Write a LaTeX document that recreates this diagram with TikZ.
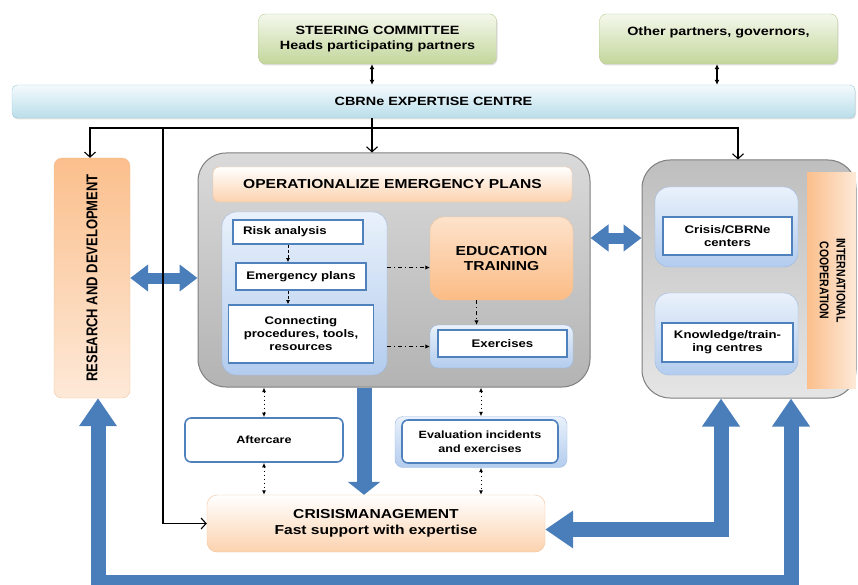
\documentclass[tikz,border=0pt]{standalone}
\usepackage{graphicx}
\usepackage{fontspec}
\setmainfont{Liberation Sans}[FakeStretch=1.2]
\newfontfamily\sidefont{Liberation Sans}
\usetikzlibrary{arrows.meta,positioning,shadows}

\definecolor{leaf}{HTML}{C3D69B}
\definecolor{leaflight}{HTML}{F4F8EC}
\definecolor{leafrim}{HTML}{B9CB95}
\definecolor{sky}{HTML}{B9DEEA}
\definecolor{skylight}{HTML}{F4FAFD}
\definecolor{skyrim}{HTML}{9FCADB}
\definecolor{peach}{HTML}{FBBF8C}
\definecolor{peachlight}{HTML}{FDE9D8}
\definecolor{peachrim}{HTML}{F2C39B}
\definecolor{panelblue}{HTML}{B3CCEE}
\definecolor{panellight}{HTML}{E9F1FB}
\definecolor{panelrim}{HTML}{9DB9E0}
\definecolor{rim}{HTML}{4F81BD}
\definecolor{arrowblue}{HTML}{4A7EBB}
\definecolor{greytop}{HTML}{DADADA}
\definecolor{greybot}{HTML}{B3B3B3}
\definecolor{greyrim}{HTML}{7F7F7F}

\newcommand{\boxfont}[2]{\fontsize{#1}{#2}\selectfont\bfseries}
% upright text turned on its side, widened like the rest
\newcommand{\sidetext}[2]{\scalebox{1.2}[1]{\rotatebox{#1}{#2}}}

\begin{document}
\begin{tikzpicture}[x=1pt,y=-1pt,
    greenbox/.style={rectangle,rounded corners=7pt,draw=leafrim,top color=leaflight,bottom color=leaf,
      minimum width=238pt,minimum height=50pt,align=center,font=\boxfont{12}{15},
      drop shadow={shadow xshift=1pt,shadow yshift=-1.5pt,opacity=.25}},
    bar/.style={rectangle,rounded corners=5pt,draw=skyrim,top color=skylight,bottom color=sky,
      minimum width=843pt,minimum height=33pt,font=\boxfont{12}{14},
      drop shadow={shadow xshift=1pt,shadow yshift=-1.5pt,opacity=.25}},
    rdbox/.style={rectangle,rounded corners=8pt,draw=peachrim,top color=peach,bottom color=peachlight,
      minimum width=76pt,minimum height=240pt,font=\sidefont\boxfont{13}{15}},
    container/.style={rectangle,rounded corners=28pt,draw=greyrim,line width=1pt},
    header/.style={rectangle,rounded corners=6pt,draw=peachrim,top color=white,bottom color=peach!70!white,
      minimum width=359pt,minimum height=35pt,font=\boxfont{13}{15}},
    panel/.style={rectangle,rounded corners=14pt,draw=panelrim,top color=panellight,bottom color=panelblue},
    itembox/.style={rectangle,draw=rim,line width=1.6pt,fill=white,align=center,font=\boxfont{11}{13}},
    edubox/.style={rectangle,rounded corners=14pt,draw=peachrim,top color=peach!45!white,bottom color=peach!95!orange,
      minimum width=143pt,minimum height=83pt,align=center,font=\boxfont{13}{15}},
    link/.style={line width=1.4pt,{Latex[length=5pt,width=5pt]}-{Latex[length=5pt,width=5pt]}},
    feed/.style={line width=1.1pt,-{Straight Barb[length=5pt,width=11pt]}},
    steplink/.style={line width=0.9pt,dash pattern=on 3pt off 2pt,-{Latex[length=4pt,width=4pt]}},
    flow/.style={line width=0.9pt,dash pattern=on 4pt off 3pt on 1pt off 3pt,-{Latex[length=4.5pt,width=4.5pt]}},
    dotlink/.style={line width=0.9pt,dash pattern=on 1pt off 3pt,{Latex[length=4.5pt,width=4pt]}-{Latex[length=4.5pt,width=4pt]}},
    bigarrow/.style={draw=arrowblue,line width=15pt,line join=miter,
      {Triangle[length=28pt,width=36pt]}-{Triangle[length=28pt,width=36pt]}},
    twoway/.style={draw=arrowblue,line width=11pt,{Triangle[length=18pt,width=26pt]}-{Triangle[length=18pt,width=26pt]}},
    push/.style={draw=arrowblue,line width=15pt,-{Triangle[length=13pt,width=32pt]}}
  ]
  \useasboundingbox (0,0) rectangle (858,585);

  % governance on top
  \node[greenbox] (steer) at (377.5,39) {STEERING COMMITTEE\\Heads participating partners};
  \node[greenbox] (others) at (718.5,39) {Other partners, governors,\\\mbox{}};
  \node[bar] (centre) at (433.5,101.5) {CBRNe EXPERTISE CENTRE};

  % research and development column
  \node[rdbox] (rd) at (92,278) {\sidetext{90}{RESEARCH AND DEVELOPMENT}};

  % operationalize emergency plans
  \node[container,top color=greytop,bottom color=greybot,minimum width=392pt,minimum height=234pt] (main) at (394,270) {};
  \node[header] (head) at (392.5,184.5) {OPERATIONALIZE EMERGENCY PLANS};
  \node[panel,minimum width=165pt,minimum height=163pt] (plans) at (304.5,293.5) {};
  \begin{scope}[on grid]
    \node[itembox,minimum height=24pt,text width=110pt,inner xsep=10pt,align=left] (risk) at (298,232) {Risk analysis};
    \node[itembox,minimum width=130pt,minimum height=27pt,below=44.5pt of risk,xshift=3pt] (emerg) {Emergency plans};
    \node[itembox,minimum width=145pt,minimum height=58pt,below=57.5pt of emerg] (connect) {Connecting\\procedures, tools,\\resources};
    \node[edubox] (edu) at (501.5,258.5) {EDUCATION\\TRAINING};
    \node[panel,rounded corners=8pt,minimum width=143pt,minimum height=43pt,below=88pt of edu] (expanel) {};
    \node[itembox,minimum width=129pt,minimum height=27pt,below=-3pt of expanel,xshift=1pt] (exer) {Exercises};
  \end{scope}

  % international cooperation
  \node[container,top color=greybot!85!white,bottom color=greytop!70!white,minimum width=214pt,minimum height=238pt] (intl) at (749,279) {};
  \node[rectangle,left color=peach,right color=peachlight,minimum width=49pt,minimum height=215pt,
    font=\sidefont\boxfont{10.5}{14}] (coop) at (831.5,280.5)
    {\sidetext{-90}{\begin{tabular}{@{}c@{}}INTERNATIONAL\\COOPERATION\end{tabular}}};
  \begin{scope}[on grid]
    \node[panel,minimum width=143pt,minimum height=80pt] (hubpanel) at (726.5,227) {};
    \node[itembox,minimum width=129pt,minimum height=38pt] (hubs) at (727.5,236) {Crisis/CBRNe\\centers};
    \node[panel,minimum width=143pt,minimum height=82pt,below=107pt of hubpanel] (knowpanel) {};
    \node[itembox,minimum width=131pt,minimum height=39pt,below=8.5pt of knowpanel,xshift=1pt] (know) {Knowledge/train-\\ing centres};
  \end{scope}

  % aftercare, evaluation and crisis management
  \node[itembox,rounded corners=6pt,minimum width=158pt,minimum height=44pt,font=\boxfont{10.5}{13}] (after) at (264,440) {Aftercare};
  \node[panel,rounded corners=8pt,minimum width=172pt,minimum height=51pt] (evalpanel) at (481,442) {};
  \node[itembox,rounded corners=6pt,minimum width=156pt,minimum height=43pt,font=\boxfont{10.5}{14}] (eval) at (480,441.5) {Evaluation incidents\\and exercises};
  \node[rectangle,rounded corners=10pt,draw=peachrim,top color=white,bottom color=peach!70!white,
    minimum width=338pt,minimum height=57pt,align=center,font=\boxfont{13}{16}] (crisis) at (376,523.5)
    {CRISISMANAGEMENT\\Fast support with expertise};

  % wide blue arrows
  \coordinate (floor) at (0,582);
  \coordinate (c1) at ([yshift=-6pt]crisis.east);
  \draw[bigarrow] ([xshift=6pt]rd.south) -- ([xshift=6pt]rd.south |- floor) -| ([xshift=42pt]intl.south);
  \draw[bigarrow] (c1) -| ([xshift=-28pt]intl.south);
  \draw[twoway] (rd.east) -- (rd.east -| main.west);
  \draw[twoway] ([yshift=32pt]main.east) -- ([yshift=32pt]main.east -| intl.west);
  \draw[push] ([xshift=-30pt]main.south) -- ([xshift=-30pt]main.south |- crisis.north);

  % thin connectors
  \draw[link] ([xshift=-5.5pt]steer.south) -- ([xshift=-5.5pt]steer.south |- centre.north);
  \draw[link] ([xshift=-1.5pt]others.south) -- ([xshift=-1.5pt]others.south |- centre.north);
  \coordinate (bus) at (0,128);
  \coordinate (tap) at ([xshift=-22pt]main.north |- bus);
  \coordinate (drop) at (163,128);
  \draw[feed] (tap |- centre.south) -- ([xshift=-22pt]main.north);
  \draw[feed] (tap) -| ([xshift=-2pt]rd.north);
  \draw[feed] (tap) -| ([xshift=-11pt]intl.north);
  \draw[feed] (drop) |- (crisis.west);

  \draw[steplink] ([xshift=-10pt]risk.south) -- ([xshift=-10pt]risk.south |- emerg.north);
  \draw[steplink] ([xshift=-13pt]emerg.south) -- ([xshift=-13pt]emerg.south |- connect.north);
  \coordinate (e1) at ([yshift=-9pt]edu.west);
  \draw[flow] (plans.east |- e1) -- (e1);
  \draw[flow] (plans.east |- expanel.west) -- (expanel.west);
  \draw[flow] ([xshift=-25pt]edu.south) -- ([xshift=-25pt]edu.south |- expanel.north);

  \draw[dotlink] (after.north |- main.south) -- (after.north);
  \draw[dotlink] (after.south) -- (after.south |- crisis.north);
  \draw[dotlink] (evalpanel.north |- main.south) -- (evalpanel.north);
  \draw[dotlink] (evalpanel.south) -- (evalpanel.south |- crisis.north);
\end{tikzpicture}
\end{document}
